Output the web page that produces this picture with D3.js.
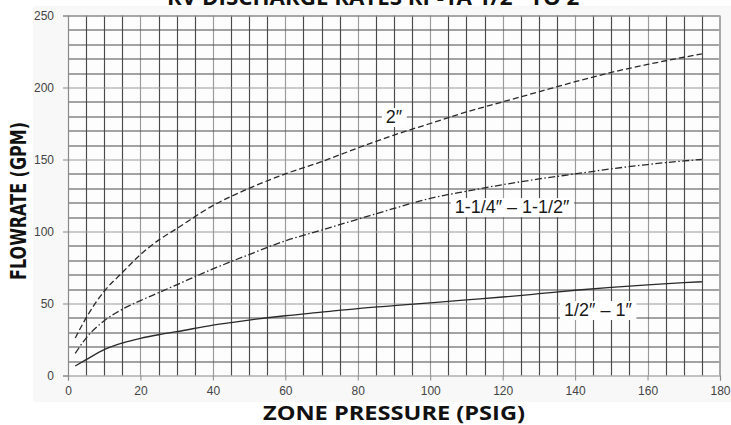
<!DOCTYPE html>
<html>
<head>
<meta charset="utf-8">
<script src="https://cdn.jsdelivr.net/npm/d3@7"></script>
<style>
  body { margin: 0; background: #fff; }
  svg { display: block; }
  .tick text { font-family: "Liberation Sans", Arial, sans-serif; font-size: 12px; fill: #444; }
</style>
</head>
<body>
<svg width="731" height="425"></svg>
<script>
// pressure points (psig) where the curves were read
var pressure = [2, 5, 10, 15, 20, 25, 30, 40, 50, 60, 70, 80, 90, 100, 110, 120, 130, 140, 150, 160, 170, 175];

// flowrate (gpm) per valve size
var flow2in   = [26, 40, 58.5, 71.5, 84, 94, 102, 118, 130, 140, 148.5, 158, 167, 175, 183, 190, 197, 204, 210.5, 216, 221, 223.3];
var flow114in = [15.4, 26, 38, 46, 52, 57.5, 63, 74, 84, 93.5, 101, 108.5, 116, 123, 128, 132.5, 136.5, 140, 143.5, 146.5, 149, 150];
var flow12in  = [6.6, 11, 18, 22.5, 25.8, 28.3, 30.4, 35, 38.5, 41.5, 44, 46.5, 48.5, 50.5, 52.5, 54.5, 56.8, 59.2, 61.2, 63, 64.5, 65.1];

var seriesNames = ["2\u2033", "1-1/4\u2033 \u2013 1-1/2\u2033", "1/2\u2033 \u2013 1\u2033"];
// label anchors in data units [psig, gpm]
var labelAt = [[90, 175.3], [122.6, 112.8], [146.3, 41.3]];

var xTicks = [0, 20, 40, 60, 80, 100, 120, 140, 160, 180];
var yTicks = [0, 50, 100, 150, 200, 250];

var svg = d3.select("svg"),
    margin = {top: 15.5, right: 11, bottom: 49.5, left: 68},
    width = 731 - margin.left - margin.right,
    height = 425 - margin.top - margin.bottom;

// light chart area behind everything
svg.append("rect")
    .attr("x", 33).attr("y", 6)
    .attr("width", 698).attr("height", 396)
    .attr("fill", "#f8f8f8");

var g = svg.append("g").attr("transform", "translate(" + margin.left + "," + margin.top + ")");

var x = d3.scaleLinear().domain([0, 180]).range([0, width]);
var y = d3.scaleLinear().domain([0, 250]).range([height, 0]);

g.append("rect")
    .attr("width", width).attr("height", height)
    .attr("fill", "#fdfdfd");

// grid: minor every 5 psi / 10 gpm (dark), major every 20 psi / 50 gpm (lighter)
var gx = d3.range(5, 180, 5), gy = d3.range(10, 250, 10);

g.append("g").selectAll("line")
    .data(gx)
    .enter().append("line")
    .attr("x1", function(d) { return Math.round(x(d)) + 0.5; })
    .attr("x2", function(d) { return Math.round(x(d)) + 0.5; })
    .attr("y1", 0).attr("y2", height)
    .attr("stroke", function(d) { return d % 20 === 0 ? "#9a9a9a" : "#4a4a4a"; })
    .attr("stroke-width", 1.15);

g.append("g").selectAll("line")
    .data(gy)
    .enter().append("line")
    .attr("y1", function(d) { return Math.round(y(d)) + 0.5; })
    .attr("y2", function(d) { return Math.round(y(d)) + 0.5; })
    .attr("x1", 0).attr("x2", width)
    .attr("stroke", function(d) { return d % 50 === 0 ? "#9a9a9a" : "#4a4a4a"; })
    .attr("stroke-width", 1.15);

// top and right border
g.append("line").attr("x1", 0).attr("x2", width).attr("y1", 0.5).attr("y2", 0.5)
    .attr("stroke", "#8a8a8a").attr("stroke-width", 1.5);
g.append("line").attr("x1", width).attr("x2", width).attr("y1", 0).attr("y2", height)
    .attr("stroke", "#a8a8a8").attr("stroke-width", 2);

// axes
var xAxis = g.append("g")
    .attr("transform", "translate(0," + height + ")")
    .call(d3.axisBottom(x).tickValues(xTicks).tickSize(5).tickPadding(6));
var yAxis = g.append("g")
    .call(d3.axisLeft(y).tickValues(yTicks).tickSize(5).tickPadding(9));
[xAxis, yAxis].forEach(function(a) {
    a.select(".domain").attr("stroke", "#8a8a8a").attr("stroke-width", 1.2);
    a.selectAll(".tick line").attr("stroke", "#8a8a8a");
});

// curves
var line = d3.line()
    .x(function(d) { return x(d[0]); })
    .y(function(d) { return y(d[1]); })
    .curve(d3.curveMonotoneX);

var series = [flow2in, flow114in, flow12in];
var dashes = ["6,3", "7,2.5,1.5,2.5", null];

g.append("g").selectAll("path")
    .data(series)
    .enter().append("path")
    .attr("d", function(d) { return line(d3.zip(pressure, d)); })
    .attr("fill", "none")
    .attr("stroke", "#2a2a2a")
    .attr("stroke-width", 1.3)
    .attr("stroke-dasharray", function(d, i) { return dashes[i]; });

// curve labels with white boxes
var labels = g.append("g").selectAll("g")
    .data(seriesNames)
    .enter().append("g");

labels.append("text")
    .attr("x", function(d, i) { return x(labelAt[i][0]); })
    .attr("y", function(d, i) { return y(labelAt[i][1]); })
    .attr("text-anchor", "middle")
    .attr("font-family", "'Liberation Sans Narrow', 'Liberation Sans', sans-serif")
    .attr("font-size", 18)
    .attr("fill", "#1a1a1a")
    .text(function(d) { return d; });

labels.insert("rect", "text")
    .each(function() {
        var b = this.parentNode.querySelector("text").getBBox();
        d3.select(this)
            .attr("x", b.x - 4).attr("y", b.y + 1)
            .attr("width", b.width + 8).attr("height", b.height - 1)
            .attr("fill", "#fff");
    });

// titles (the chart title sits partly above the top edge, as in the source)
svg.append("text")
    .attr("x", 379).attr("y", 5)
    .attr("text-anchor", "middle")
    .attr("font-family", "'Open Sans', sans-serif")
    .attr("font-weight", "bold")
    .attr("font-size", 21)
    .attr("fill", "#111")
    .attr("textLength", 424)
    .attr("lengthAdjust", "spacingAndGlyphs")
    .text("RV DISCHARGE RATES RP-1A 1/2\u2033 TO 2\u2033");

svg.append("text")
    .attr("x", margin.left + x(90)).attr("y", 420)
    .attr("text-anchor", "middle")
    .attr("font-family", "'Open Sans', sans-serif")
    .attr("font-weight", "bold")
    .attr("font-size", 20)
    .attr("fill", "#111")
    .attr("textLength", 262)
    .attr("lengthAdjust", "spacingAndGlyphs")
    .text("ZONE PRESSURE (PSIG)");

svg.append("text")
    .attr("transform", "translate(26,201) rotate(-90)")
    .attr("text-anchor", "middle")
    .attr("font-family", "'DejaVu Sans', sans-serif")
    .attr("font-weight", "bold")
    .attr("font-size", 21)
    .attr("fill", "#111")
    .attr("textLength", 158)
    .attr("lengthAdjust", "spacingAndGlyphs")
    .text("FLOWRATE (GPM)");
</script>
</body>
</html>
